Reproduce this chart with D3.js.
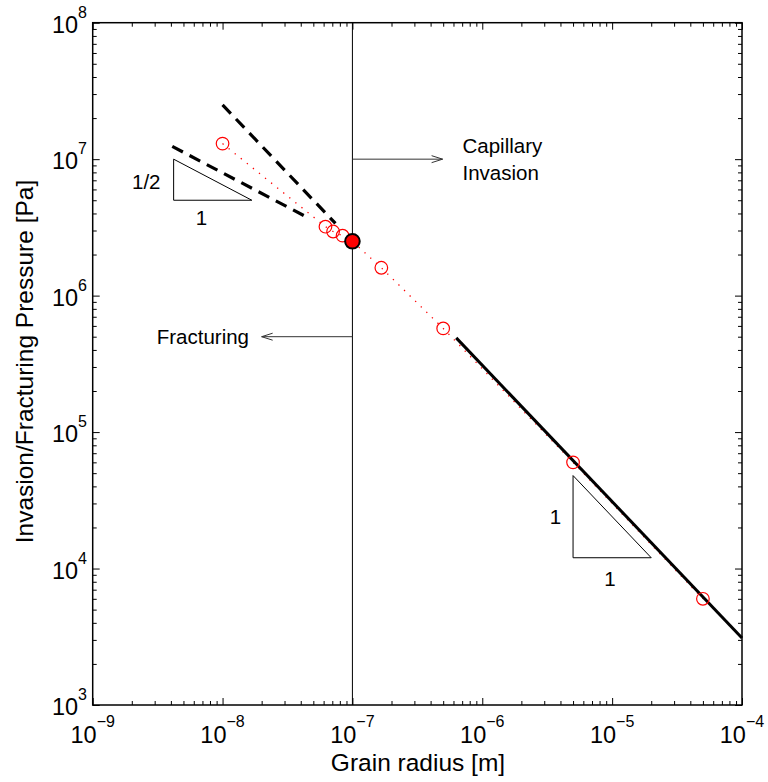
<!DOCTYPE html>
<html><head><meta charset="utf-8">
<script src="https://cdn.jsdelivr.net/npm/d3@7"></script>
<style>body{margin:0;background:#fff}svg{display:block}text{font-family:"Liberation Sans",Arial,sans-serif;fill:#000}</style>
</head><body>
<script>
// ---- data ----
const xDomain = [1e-9, 1e-4];
const yDomain = [1e3, 1e8];
const xMajorTicks = [1e-9, 1e-8, 1e-7, 1e-6, 1e-5, 1e-4];
const xTickExponents = ["\u22129", "\u22128", "\u22127", "\u22126", "\u22125", "\u22124"];
const yMajorTicks = [1e3, 1e4, 1e5, 1e6, 1e7, 1e8];
const yTickExponents = ["3", "4", "5", "6", "7", "8"];
const pointRadius = [1e-8, 6.2e-8, 7.1e-8, 8.4e-8, 1.67e-7, 5e-7, 5e-6, 5e-5];
const pointPressure = [1.3e7, 3.2e6, 2.95e6, 2.75e6, 1.6e6, 5.75e5, 6e4, 6e3];
const criticalRadius = [1e-7];
const criticalPressure = [2.5e6];
const solidRadius = [6.3e-7, 1e-4];
const solidPressure = [4.9e5, 3.1e3];
const dashSteepRadius = [1e-8, 7.4e-8];
const dashSteepPressure = [2.5e7, 3.38e6];
const dashHalfRadius = [4.1e-9, 4.6e-8];
const dashHalfPressure = [1.24e7, 3.7e6];
const smallTriRadius = [4.2e-9, 4.2e-9, 1.68e-8];
const smallTriPressure = [1e7, 5e6, 5e6];
const bigTriRadius = [5e-6, 5e-6, 2e-5];
const bigTriPressure = [4.8e4, 1.2e4, 1.2e4];
const dividerRadius = 1e-7;
const capArrowRadius = [1e-7, 4.95e-7], capArrowPressure = 1e7;
const fracArrowRadius = [1e-7, 2e-8], fracArrowPressure = 5e5;

// ---- layout ----
const W = 768, H = 782;
const m = {left: 92.7, right: 742, top: 22.7, bottom: 705};
const svg = d3.select("body").append("svg").attr("width", W).attr("height", H);
const x = d3.scaleLog().domain(xDomain).range([m.left, m.right]);
const y = d3.scaleLog().domain(yDomain).range([m.bottom, m.top]);

// minor ticks
const xMinor = x.ticks().filter(v => !xMajorTicks.some(t => Math.abs(v / t - 1) < 1e-6));
const yMinor = y.ticks().filter(v => !yMajorTicks.some(t => Math.abs(v / t - 1) < 1e-6));

function axisGroup(gen, tr){
  const g = svg.append("g").attr("transform", tr).call(gen);
  g.select(".domain").remove();
  g.selectAll("line").attr("stroke", "#000").attr("stroke-width", 1);
  g.selectAll("text").remove();
  return g;
}
const hB = `translate(0,${m.bottom})`, hT = `translate(0,${m.top})`;
const vL = `translate(${m.left},0)`, vR = `translate(${m.right},0)`;
axisGroup(d3.axisBottom(x).tickValues(xMajorTicks).tickSize(-7).tickFormat(""), hB);
axisGroup(d3.axisBottom(x).tickValues(xMinor).tickSize(-4).tickFormat(""), hB);
axisGroup(d3.axisTop(x).tickValues(xMajorTicks).tickSize(-7).tickFormat(""), hT);
axisGroup(d3.axisTop(x).tickValues(xMinor).tickSize(-4).tickFormat(""), hT);
axisGroup(d3.axisLeft(y).tickValues(yMajorTicks).tickSize(-7).tickFormat(""), vL);
axisGroup(d3.axisLeft(y).tickValues(yMinor).tickSize(-4).tickFormat(""), vL);
axisGroup(d3.axisRight(y).tickValues(yMajorTicks).tickSize(-7).tickFormat(""), vR);
axisGroup(d3.axisRight(y).tickValues(yMinor).tickSize(-4).tickFormat(""), vR);

// frame
svg.append("rect").attr("x", m.left).attr("y", m.top)
  .attr("width", m.right - m.left).attr("height", m.bottom - m.top)
  .attr("fill", "none").attr("stroke", "#000").attr("stroke-width", 1.5);

// tick labels
xMajorTicks.forEach((v, i) => {
  const t = svg.append("text").attr("x", x(v)).attr("y", 743)
    .attr("text-anchor", "middle").style("font-size", "23.5px");
  t.append("tspan").text("10");
  t.append("tspan").attr("dy", -16).style("font-size", "16px").text(xTickExponents[i]);
});
yMajorTicks.forEach((v, i) => {
  const t = svg.append("text").attr("x", 87).attr("y", y(v) + 10)
    .attr("text-anchor", "end").style("font-size", "23.5px");
  t.append("tspan").text("10");
  t.append("tspan").attr("dy", -15).style("font-size", "16px").text(yTickExponents[i]);
});

// axis titles
svg.append("text").attr("x", 418).attr("y", 771).attr("text-anchor", "middle")
  .style("font-size", "24.5px").text("Grain radius [m]");
svg.append("text").attr("transform", "translate(33,361.5) rotate(-90)")
  .attr("text-anchor", "middle").style("font-size", "24.5px")
  .text("Invasion/Fracturing Pressure [Pa]");

// vertical divider
svg.append("line").attr("x1", x(dividerRadius)).attr("x2", x(dividerRadius))
  .attr("y1", m.top).attr("y2", m.bottom).attr("stroke", "#000").attr("stroke-width", 1);

const line = d3.line().x(d => x(d[0])).y(d => y(d[1]));

// red dotted line through all points
const allPts = pointRadius.map((r, i) => [r, pointPressure[i]])
  .concat([[criticalRadius[0], criticalPressure[0]]]).sort((a, b) => a[0] - b[0]);
svg.append("path").attr("d", line(allPts)).attr("fill", "none")
  .attr("stroke", "#ff0000").attr("stroke-width", 1.3).attr("stroke-dasharray", "1.3,6.5");

// solid slope line
svg.append("path").attr("d", line(solidRadius.map((r, i) => [r, solidPressure[i]])))
  .attr("fill", "none").attr("stroke", "#000").attr("stroke-width", 3);

// dashed lines
[[dashSteepRadius, dashSteepPressure], [dashHalfRadius, dashHalfPressure]].forEach(([rs, ps]) => {
  svg.append("path").attr("d", line(rs.map((r, i) => [r, ps[i]])))
    .attr("fill", "none").attr("stroke", "#000").attr("stroke-width", 3.2)
    .attr("stroke-dasharray", "12,7.5");
});

// slope triangles
[[smallTriRadius, smallTriPressure], [bigTriRadius, bigTriPressure]].forEach(([rs, ps]) => {
  svg.append("path").attr("d", line(rs.map((r, i) => [r, ps[i]])) + "Z")
    .attr("fill", "none").attr("stroke", "#000").attr("stroke-width", 1);
});
function label(txt, xx, yy, anchor){
  svg.append("text").attr("x", xx).attr("y", yy).attr("text-anchor", anchor || "start")
    .style("font-size", "20.5px").text(txt);
}
label("1/2", 160.5, 189, "end");
label("1", 201.5, 225, "middle");
label("1", 555.5, 524, "middle");
label("1", 610, 585.5, "middle");

// arrows
function arrow(rs, p){
  const x1 = x(rs[0]), x2 = x(rs[1]), yy = y(p);
  const dir = Math.sign(x2 - x1);
  svg.append("line").attr("x1", x1).attr("x2", x2).attr("y1", yy).attr("y2", yy)
    .attr("stroke", "#333").attr("stroke-width", 1);
  svg.append("path")
    .attr("d", `M${x2 - dir * 11},${yy - 3.5}L${x2},${yy}L${x2 - dir * 11},${yy + 3.5}`)
    .attr("fill", "none").attr("stroke", "#333").attr("stroke-width", 1);
}
arrow(capArrowRadius, capArrowPressure);
arrow(fracArrowRadius, fracArrowPressure);
label("Capillary", 462.5, 153);
label("Invasion", 462.5, 180);
label("Fracturing", 249, 344, "end");

// data points
svg.selectAll("circle.pt").data(pointRadius).enter().append("circle")
  .attr("class", "pt").attr("cx", d => x(d)).attr("cy", (d, i) => y(pointPressure[i]))
  .attr("r", 6.3).attr("fill", "none").attr("stroke", "#ff0000").attr("stroke-width", 1.2);
svg.selectAll("circle.crit").data(criticalRadius).enter().append("circle")
  .attr("class", "crit").attr("cx", d => x(d)).attr("cy", (d, i) => y(criticalPressure[i]))
  .attr("r", 7.3).attr("fill", "#ff0000").attr("stroke", "#000").attr("stroke-width", 2);
</script>
</body></html>
